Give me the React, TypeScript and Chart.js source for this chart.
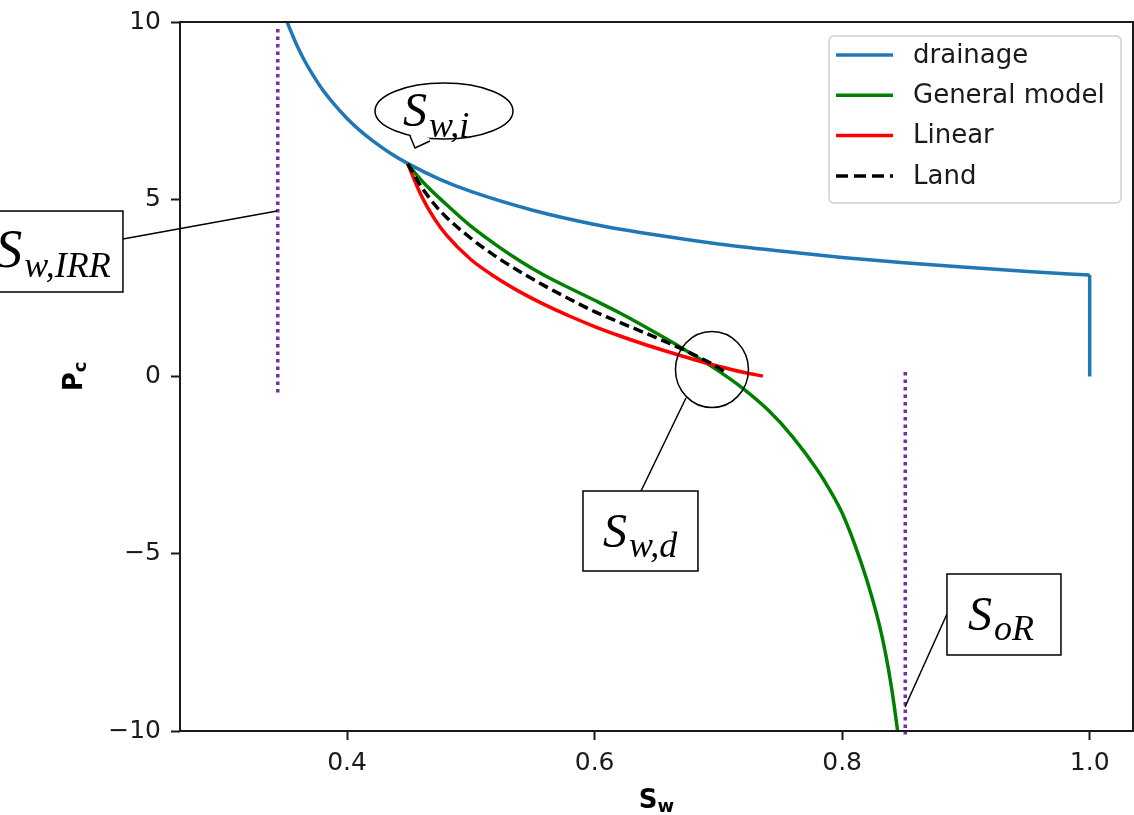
import React, { useEffect, useRef } from 'react';
import { Chart, registerables } from 'chart.js';
Chart.register(...registerables);

// ---- axes ----
const xTicks = [0.4, 0.6, 0.8, 1.0];
const yTicks = [-10, -5, 0, 5, 10];

// ---- series ----
const drainageSw = [0.348, 0.352, 0.356, 0.36, 0.365, 0.37, 0.375, 0.38, 0.39, 0.40, 0.41, 0.42, 0.435, 0.45, 0.475, 0.50, 0.55, 0.60, 0.65, 0.70, 0.75, 0.80, 0.85, 0.90, 0.95, 1.0];
const drainagePc = [10.35, 9.96, 9.62, 9.30, 8.95, 8.64, 8.36, 8.10, 7.66, 7.28, 6.95, 6.67, 6.30, 5.99, 5.56, 5.22, 4.69, 4.29, 3.99, 3.74, 3.54, 3.36, 3.21, 3.08, 2.96, 2.86];
const drainageEndSw = [1.0, 1.0];
const drainageEndPc = [2.86, 0.0];

const generalSw = [0.449, 0.455, 0.465, 0.48, 0.50, 0.52, 0.54, 0.56, 0.58, 0.60, 0.62, 0.64, 0.66, 0.68, 0.70, 0.72, 0.74, 0.76, 0.78, 0.79, 0.80, 0.81, 0.82, 0.83, 0.835, 0.84, 0.845, 0.848];
const generalPc = [6.00, 5.74, 5.35, 4.86, 4.24, 3.72, 3.25, 2.84, 2.49, 2.15, 1.80, 1.42, 1.02, 0.60, 0.16, -0.34, -0.94, -1.70, -2.64, -3.20, -3.85, -4.72, -5.75, -7.00, -7.80, -8.80, -10.05, -10.9];

const linearSw = [0.449, 0.46, 0.47, 0.48, 0.50, 0.52, 0.54, 0.56, 0.58, 0.60, 0.62, 0.64, 0.66, 0.68, 0.70, 0.72, 0.736];
const linearPc = [6.00, 5.10, 4.48, 4.00, 3.30, 2.80, 2.38, 2.02, 1.70, 1.41, 1.15, 0.91, 0.69, 0.48, 0.29, 0.12, 0.01];

const landSw = [0.449, 0.46, 0.47, 0.48, 0.50, 0.52, 0.54, 0.56, 0.58, 0.60, 0.62, 0.64, 0.66, 0.68, 0.70, 0.706];
const landPc = [6.00, 5.35, 4.88, 4.50, 3.90, 3.39, 2.95, 2.55, 2.18, 1.83, 1.53, 1.24, 0.94, 0.62, 0.25, 0.10];

const swirrSw = [0.344, 0.344];
const swirrPc = [9.8, -0.47];
const sorSw = [0.851, 0.851];
const sorPc = [0.13, -10.1];

const legendLabels = ['drainage', 'General model', 'Linear', 'Land'];
const legendColors = ['#1f77b4', '#008000', '#ff0000', '#000000'];

const pts = (xs: number[], ys: number[]) => xs.map((v, i) => ({ x: v, y: ys[i] }));

const FONT = '"DejaVu Sans", sans-serif';
const SERIF = '"Liberation Serif", "DejaVu Serif", serif';

const overlay = {
  id: 'overlay',
  afterDatasetsDraw(chart: any) {
    const { ctx, chartArea: a, scales } = chart;
    const xs = scales.x, ys = scales.y;
    const P = (sw: number, pc: number): [number, number] => [xs.getPixelForValue(sw), ys.getPixelForValue(pc)];
    ctx.save();

    // frame
    ctx.strokeStyle = '#1a1a1a';
    ctx.lineWidth = 2;
    ctx.strokeRect(a.left, a.top, a.right - a.left, a.bottom - a.top);

    // legend
    const lw = 292, lh = 167;
    const lx = a.right - 12 - lw, ly = a.top + 14;
    ctx.beginPath();
    const r = 5;
    ctx.moveTo(lx + r, ly);
    ctx.arcTo(lx + lw, ly, lx + lw, ly + lh, r);
    ctx.arcTo(lx + lw, ly + lh, lx, ly + lh, r);
    ctx.arcTo(lx, ly + lh, lx, ly, r);
    ctx.arcTo(lx, ly, lx + lw, ly, r);
    ctx.closePath();
    ctx.fillStyle = 'rgba(255,255,255,0.85)';
    ctx.fill();
    ctx.strokeStyle = '#d0d0d0';
    ctx.lineWidth = 1.5;
    ctx.stroke();
    ctx.font = `26px ${FONT}`;
    ctx.textBaseline = 'middle';
    ctx.textAlign = 'left';
    legendLabels.forEach((lab, i) => {
      const yy = ly + 19 + i * 40.3;
      ctx.beginPath();
      ctx.strokeStyle = legendColors[i];
      ctx.lineWidth = 3.5;
      ctx.setLineDash(i === 3 ? [12, 6] : []);
      ctx.moveTo(lx + 7, yy);
      ctx.lineTo(lx + 64, yy);
      ctx.stroke();
      ctx.setLineDash([]);
      ctx.fillStyle = '#1a1a1a';
      ctx.fillText(lab, lx + 84, yy + 1);
    });

    // axis labels
    ctx.fillStyle = '#000';
    ctx.textBaseline = 'alphabetic';
    ctx.textAlign = 'left';
    {
      ctx.font = `bold 26px ${FONT}`;
      const wS = ctx.measureText('S').width;
      ctx.font = `bold 18px ${FONT}`;
      const ww = ctx.measureText('w').width;
      const cx = (a.left + a.right) / 2;
      const x0 = cx - (wS + ww) / 2;
      ctx.font = `bold 26px ${FONT}`;
      ctx.fillText('S', x0, a.bottom + 77);
      ctx.font = `bold 18px ${FONT}`;
      ctx.fillText('w', x0 + wS, a.bottom + 81);
    }
    {
      ctx.save();
      ctx.translate(a.left - 98, (a.top + a.bottom) / 2);
      ctx.rotate(-Math.PI / 2);
      ctx.font = `bold 26px ${FONT}`;
      const wP = ctx.measureText('P').width;
      ctx.font = `bold 18px ${FONT}`;
      const wc = ctx.measureText('c').width;
      const x0 = -(wP + wc) / 2;
      ctx.font = `bold 26px ${FONT}`;
      ctx.fillText('P', x0, 0);
      ctx.font = `bold 18px ${FONT}`;
      ctx.fillText('c', x0 + wP, 4);
      ctx.restore();
    }

    // annotations
    ctx.strokeStyle = '#000';
    ctx.lineWidth = 1.5;
    const line = (p: [number, number][]) => {
      ctx.beginPath();
      ctx.moveTo(p[0][0], p[0][1]);
      for (let i = 1; i < p.length; i++) ctx.lineTo(p[i][0], p[i][1]);
      ctx.stroke();
    };
    const box = (sw0: number, pc0: number, sw1: number, pc1: number) => {
      const [x0, y0] = P(sw0, pc0);
      const [x1, y1] = P(sw1, pc1);
      ctx.fillStyle = '#fff';
      ctx.fillRect(x0, y0, x1 - x0, y1 - y0);
      ctx.strokeRect(x0, y0, x1 - x0, y1 - y0);
    };
    const label = (sub: string, s0: [number, number], subDrop: number, big: number, small: number) => {
      ctx.fillStyle = '#000';
      ctx.font = `italic ${big}px ${SERIF}`;
      const [a0, b0] = P(s0[0], s0[1]);
      ctx.fillText('S', a0, b0);
      const wS = ctx.measureText('S').width;
      ctx.font = `italic ${small}px ${SERIF}`;
      ctx.fillText(sub, a0 + wS + 2, b0 + subDrop);
    };

    // S_w,IRR
    line([P(0.2189, 3.879), P(0.3434, 4.668)]);
    box(0.1155, 4.668, 0.2189, 2.384);
    label('w,IRR', [0.1158, 3.089], 10, 54, 36);

    // S_w,i callout
    {
      const [cx, cy] = P(0.4783, 7.489);
      const rx = Math.abs(P(0.4783 + 0.05575, 0)[0] - P(0.4783, 0)[0]);
      const ry = Math.abs(P(0, 7.489 - 0.79)[1] - P(0, 7.489)[1]);
      ctx.beginPath();
      ctx.ellipse(cx, cy, rx, ry, 0, 0, Math.PI * 2);
      ctx.fillStyle = '#fff';
      ctx.fill();
      ctx.stroke();
      const b1 = P(0.4508, 6.784), tip = P(0.4549, 6.446), b2 = P(0.4670, 6.643);
      ctx.beginPath();
      ctx.moveTo(b1[0], b1[1] - 3);
      ctx.lineTo(tip[0], tip[1]);
      ctx.lineTo(b2[0], b2[1] - 3);
      ctx.closePath();
      ctx.fillStyle = '#fff';
      ctx.fill();
      line([b1, tip, b2]);
      label('w,i', [0.4452, 7.066], 11, 48, 36);
    }

    // S_w,d
    {
      const [cx, cy] = P(0.6948, 0.197);
      const rx = Math.abs(P(0.6948 + 0.02949, 0)[0] - P(0.6948, 0)[0]);
      const ry = Math.abs(P(0, 0.197 - 1.072)[1] - P(0, 0.197)[1]);
      ctx.beginPath();
      ctx.ellipse(cx, cy, rx, ry, 0, 0, Math.PI * 2);
      ctx.stroke();
      line([P(0.6738, -0.606), P(0.6375, -3.23)]);
      box(0.5906, -3.23, 0.6835, -5.487);
      label('w,d', [0.6068, -4.81], 10, 48, 36);
    }

    // S_oR
    line([P(0.8847, -6.7), P(0.8508, -9.323)]);
    box(0.8847, -5.571, 0.9768, -7.856);
    label('oR', [0.9017, -7.151], 10, 48, 36);

    ctx.restore();
  },
};

export default function App() {
  const ref = useRef<HTMLCanvasElement>(null);
  useEffect(() => {
    document.body.style.margin = '0';
    document.body.style.overflow = 'hidden';
    const common = { pointRadius: 0, pointHoverRadius: 0, fill: false, borderCapStyle: 'butt' as const };
    const chart = new Chart(ref.current!, {
      type: 'line',
      data: {
        datasets: [
          { ...common, label: 'S_w,IRR', data: pts(swirrSw, swirrPc), borderColor: '#7030A0', borderWidth: 3.5, borderDash: [3.5, 4], order: 0 },
          { ...common, label: 'S_oR', data: pts(sorSw, sorPc), borderColor: '#7030A0', borderWidth: 3.5, borderDash: [3.5, 4], order: 0, clip: false },
          { ...common, label: 'Land', data: pts(landSw, landPc), borderColor: '#000000', borderWidth: 3.5, borderDash: [10, 5], cubicInterpolationMode: 'monotone', order: 1 },
          { ...common, label: 'Linear', data: pts(linearSw, linearPc), borderColor: '#ff0000', borderWidth: 3.5, cubicInterpolationMode: 'monotone', order: 2 },
          { ...common, label: 'General model', data: pts(generalSw, generalPc), borderColor: '#008000', borderWidth: 3.5, cubicInterpolationMode: 'monotone', order: 3 },
          { ...common, label: 'drainage', data: pts(drainageSw, drainagePc), borderColor: '#1f77b4', borderWidth: 3.5, cubicInterpolationMode: 'monotone', order: 4 },
          { ...common, label: 'drainage end', data: pts(drainageEndSw, drainageEndPc), borderColor: '#1f77b4', borderWidth: 3.5, order: 4 },
        ],
      },
      options: {
        responsive: false,
        animation: false,
        events: [],
        layout: { padding: { top: 22, right: 1, left: 0, bottom: 0 } },
        plugins: { legend: { display: false }, tooltip: { enabled: false }, title: { display: false } },
        scales: {
          x: {
            type: 'linear',
            min: 0.265,
            max: 1.035,
            afterFit: (s: any) => { s.height = 84; s.paddingLeft = 0; s.paddingRight = 0; },
            afterBuildTicks: (s: any) => { s.ticks = xTicks.map((v) => ({ value: v })); },
            grid: { display: true, drawOnChartArea: false, drawTicks: true, tickLength: 9, tickWidth: 2, tickColor: '#1a1a1a' },
            border: { display: false },
            ticks: { color: '#1a1a1a', font: { family: FONT, size: 25 }, padding: 8, maxRotation: 0, callback: (v: any) => Number(v).toFixed(1) },
          },
          y: {
            type: 'linear',
            min: -10,
            max: 10,
            afterFit: (s: any) => { s.width = 180; s.paddingTop = 0; s.paddingBottom = 0; },
            afterBuildTicks: (s: any) => { s.ticks = yTicks.map((v) => ({ value: v })); },
            grid: { display: true, drawOnChartArea: false, drawTicks: true, tickLength: 9, tickWidth: 2, tickColor: '#1a1a1a' },
            border: { display: false },
            ticks: { color: '#1a1a1a', font: { family: FONT, size: 25 }, padding: 10, callback: (v: any) => (v < 0 ? '\u2212' + Math.abs(v) : String(v)) },
          },
        },
      },
      plugins: [overlay],
    } as any);
    return () => chart.destroy();
  }, []);
  return (
    <div style={{ width: 1134, height: 815, position: 'relative', background: '#fff' }}>
      <canvas ref={ref} width={1134} height={815} style={{ display: 'block' }} />
    </div>
  );
}
